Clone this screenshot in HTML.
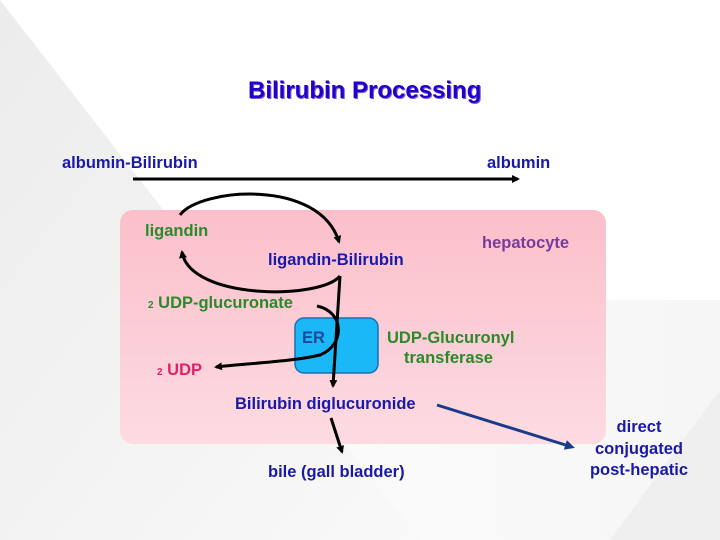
<!DOCTYPE html>
<html><head><meta charset="utf-8"><style>
html,body{margin:0;padding:0}
body{width:720px;height:540px;position:relative;overflow:hidden;background:#fff;font-family:"Liberation Sans",sans-serif;font-weight:bold}
.t{position:absolute;white-space:nowrap;font-size:16.5px;line-height:1;transform:translateY(-50%)}
.b{color:#1a1aa8}.g{color:#2a8a2a}
</style></head><body>
<svg width="720" height="540" style="position:absolute;left:0;top:0">
<defs>
<linearGradient id="bg" x1="0" y1="0" x2="1" y2="1"><stop offset="0" stop-color="#ececec"/><stop offset="1" stop-color="#f9f9f9"/></linearGradient>
<linearGradient id="bg2" x1="0" y1="0" x2="1" y2="0"><stop offset="0" stop-color="#ffffff"/><stop offset="1" stop-color="#f0f0f0"/></linearGradient>
<linearGradient id="pk" x1="0" y1="0" x2="0" y2="1"><stop offset="0" stop-color="#fbbfca"/><stop offset="1" stop-color="#fddbe2"/></linearGradient>
<marker id="ah" markerWidth="8" markerHeight="8" refX="6" refY="4" orient="auto" markerUnits="userSpaceOnUse"><path d="M0,0 L8,4 L0,8 Z" fill="#000"/></marker>
<marker id="ab" markerWidth="10" markerHeight="10" refX="7" refY="5" orient="auto" markerUnits="userSpaceOnUse"><path d="M0,0 L10,5 L0,10 Z" fill="#1a3a8a"/></marker>
</defs>
<rect x="0" y="300" width="720" height="240" fill="url(#bg2)" opacity="0.6"/>
<polygon points="0,0 420,540 0,540" fill="url(#bg)"/>
<polygon points="720,390 720,540 610,540" fill="#efefef"/>
<rect x="120" y="210" width="486" height="234" rx="13" fill="url(#pk)"/>
<rect x="295" y="318" width="83" height="55" rx="9" fill="#1ab8f6" stroke="#1a6fb0" stroke-width="1.5"/>
<g fill="none" stroke="#000" stroke-width="3">
<line x1="133" y1="179" x2="518" y2="179" marker-end="url(#ah)"/>
<path d="M180,215 C200,188 320,178 339,242" marker-end="url(#ah)"/>
<path d="M340,276 C320,300 190,300 182,252" marker-end="url(#ah)"/>
<path d="M340,276 L333,386" marker-end="url(#ah)"/>
<path d="M317,306 C345,312 345,345 320,355 C290,362 250,363 216,367" marker-end="url(#ah)"/>
<path d="M331,418 L342,452" marker-end="url(#ah)"/>
</g>
<line x1="437" y1="405" x2="572" y2="447" stroke="#1a3a8a" stroke-width="3" marker-end="url(#ab)"/>
</svg>
<div class="t" style="left:248px;top:91px;font-size:24px;color:#2200cc;text-shadow:1px 1px 0 #7a5ad0">Bilirubin Processing</div>
<div class="t b" style="left:62px;top:163px">albumin-Bilirubin</div>
<div class="t b" style="left:487px;top:163px">albumin</div>
<div class="t g" style="left:145px;top:231px">ligandin</div>
<div class="t" style="left:482px;top:243px;color:#7a3a9a">hepatocyte</div>
<div class="t b" style="left:268px;top:260px">ligandin-Bilirubin</div>
<div class="t g" style="left:148px;top:303px"><span style="font-size:10px">2</span> UDP-glucuronate</div>
<div class="t" style="left:302px;top:338px;color:#1a4aa0">ER</div>
<div class="t g" style="left:387px;top:338px">UDP-Glucuronyl</div>
<div class="t g" style="left:404px;top:358px">transferase</div>
<div class="t" style="left:157px;top:370px;color:#e0206a"><span style="font-size:10px">2</span> UDP</div>
<div class="t b" style="left:235px;top:404px">Bilirubin diglucuronide</div>
<div class="t b" style="left:268px;top:472px">bile (gall bladder)</div>
<div class="t b" style="left:578px;top:449px;width:122px;text-align:center;line-height:21.5px">direct<br>conjugated<br>post-hepatic</div>
</body></html>
